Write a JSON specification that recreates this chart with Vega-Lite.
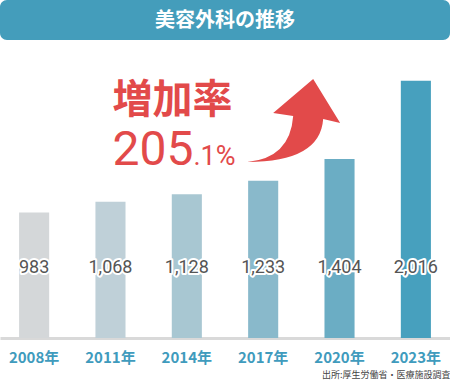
{
  "$schema": "https://vega.github.io/schema/vega-lite/v6.json",
  "width": 450,
  "height": 338,
  "autosize": "none",
  "padding": {"left": 0, "right": 0, "top": 0, "bottom": 44},
  "background": "white",
  "config": {"view": {"stroke": null}},
  "datasets": {
    "bars": [
      {"year": "2008年", "value": 983},
      {"year": "2011年", "value": 1068},
      {"year": "2014年", "value": 1128},
      {"year": "2017年", "value": 1233},
      {"year": "2020年", "value": 1404},
      {"year": "2023年", "value": 2016}
    ],
    "one": [{}]
  },
  "data": {"name": "bars"},
  "layer": [
    {
      "mark": {"type": "bar"},
      "encoding": {
        "x": {
          "field": "year", "type": "nominal", "sort": null,
          "scale": {"paddingInner": 0.606, "paddingOuter": 0.25},
          "axis": {
            "labelAngle": 0, "ticks": false, "tickSize": 0,
            "domainColor": "#d9d9d9", "domainWidth": 3,
            "labelColor": "#3f9bbd", "labelFont": "Noto Sans CJK JP", "labelFontWeight": "bold",
            "labelFontSize": 15, "labelBaseline": "middle", "labelPadding": 19,
            "title": "出所:厚生労働省・医療施設調査", "titleAnchor": "end", "titleAlign": "right",
            "titleFont": "Noto Sans CJK JP", "titleFontSize": 9, "titleFontWeight": "normal",
            "titleColor": "#444444", "titlePadding": 5
          }
        },
        "y": {"field": "value", "type": "quantitative", "scale": {"domain": [0, 2650], "nice": false}, "axis": null},
        "color": {
          "field": "year", "type": "nominal", "sort": null, "legend": null,
          "scale": {"range": ["#d4d7d9", "#bfd0d8", "#a8c7d2", "#89b9cb", "#6badc4", "#47a0be"]}
        }
      }
    },
    {
      "mark": {"type": "text", "font": "Roboto", "fontSize": 18, "baseline": "middle", "align": "center", "stroke": "white", "strokeWidth": 4, "strokeJoin": "round", "fill": "white"},
      "encoding": {
        "x": {"field": "year", "type": "nominal", "sort": null},
        "y": {"datum": 549},
        "text": {"field": "value", "type": "quantitative", "format": ",d"}
      }
    },
    {
      "mark": {"type": "text", "font": "Roboto", "fontSize": 18, "baseline": "middle", "align": "center", "fill": "#555555"},
      "encoding": {
        "x": {"field": "year", "type": "nominal", "sort": null},
        "y": {"datum": 549},
        "text": {"field": "value", "type": "quantitative", "format": ",d"}
      }
    },
    {
      "data": {"name": "one"},
      "mark": {"type": "rect", "fill": "#449dbb", "cornerRadius": 7},
      "encoding": {"y": {"datum": 2337}, "y2": {"datum": 2650}}
    },
    {
      "data": {"name": "one"},
      "mark": {"type": "text", "text": "美容外科の推移", "font": "Noto Sans CJK JP", "fontWeight": "bold", "fontSize": 20, "fill": "white", "baseline": "middle", "align": "center"},
      "encoding": {"y": {"datum": 2486}}
    },
    {
      "data": {"name": "one"},
      "mark": {"type": "text", "text": "増加率", "font": "Noto Sans CJK JP", "fontWeight": "bold", "fontSize": 40, "fill": "#e24a4a", "baseline": "middle", "align": "left", "dx": 2},
      "encoding": {"x": {"datum": "2011年", "type": "nominal"}, "y": {"datum": 1859}}
    },
    {
      "data": {"name": "one"},
      "mark": {"type": "text", "text": "205", "font": "Roboto", "fontWeight": "normal", "fontSize": 48, "fill": "#e24a4a", "baseline": "alphabetic", "align": "left", "dx": 2},
      "encoding": {"x": {"datum": "2011年", "type": "nominal"}, "y": {"datum": 1357}}
    },
    {
      "data": {"name": "one"},
      "mark": {"type": "text", "text": ".1%", "font": "Roboto", "fontWeight": "normal", "fontSize": 27, "fill": "#e24a4a", "baseline": "alphabetic", "align": "left", "dx": 83},
      "encoding": {"x": {"datum": "2011年", "type": "nominal"}, "y": {"datum": 1357}}
    },
    {
      "data": {"name": "one"},
      "mark": {"type": "point", "shape": "M50,-41 L77,3 L60,-1 Q57,42 -16,42 Q27,38 30,-4 L10,-7 Z", "size": 4, "filled": true, "fill": "#e24a4a", "opacity": 1, "strokeWidth": 0},
      "encoding": {"x": {"datum": "2017年", "type": "nominal"}, "y": {"datum": 1710}}
    }
  ]
}
